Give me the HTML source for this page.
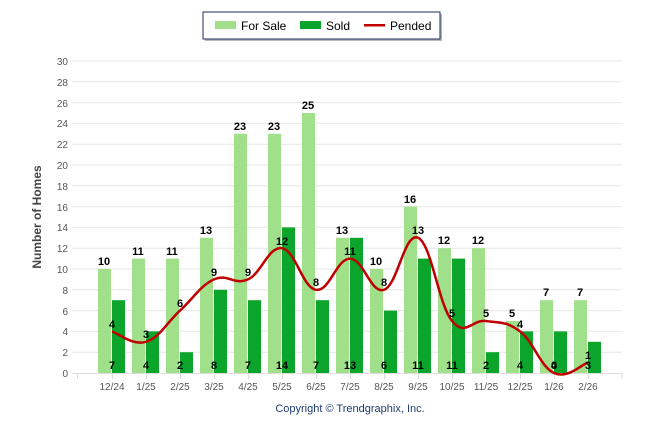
<!DOCTYPE html>
<html><head><meta charset="utf-8"><style>
body{margin:0;background:#fff;}
svg{display:block;font-family:"Liberation Sans",Arial,sans-serif;}
.t{font-size:10px;fill:#555;}
.l{font-size:11px;font-weight:bold;fill:#000;text-anchor:middle;}
</style></head><body>
<svg id="s" width="646" height="434" viewBox="0 0 646 434">
<g id="grid"></g>
<g id="bars"></g>
<path id="line" fill="none" stroke="#c00000" stroke-width="2.5"/>
<g id="lab" class="l"></g>
<rect x="205" y="14" width="237" height="27" fill="#888" opacity="0.6"/>
<rect x="203" y="12" width="237" height="27" fill="#fff" stroke="#1f2d5a" stroke-width="1"/>
<rect x="215" y="21" width="21" height="8" fill="#a0e08a"/>
<text x="241" y="30" style="font-size:12px;fill:#000">For Sale</text>
<rect x="300" y="21" width="21" height="8" fill="#0aa52a"/>
<text x="326" y="30" style="font-size:12px;fill:#000">Sold</text>
<rect x="364" y="24" width="21" height="2.5" fill="#c00000"/>
<text x="390" y="30" style="font-size:12px;fill:#000">Pended</text>
<text transform="translate(41,217) rotate(-90)" text-anchor="middle" style="font-size:12px;font-weight:bold;fill:#444">Number of Homes</text>
<text x="350" y="412" text-anchor="middle" style="font-size:11px;fill:#1f3c6e">Copyright © Trendgraphix, Inc.</text>
<g class="t" text-anchor="end">
<text x="68" y="377">0</text><text x="68" y="356">2</text><text x="68" y="335">4</text><text x="68" y="315">6</text><text x="68" y="294">8</text><text x="68" y="273">10</text><text x="68" y="252">12</text><text x="68" y="231">14</text><text x="68" y="211">16</text><text x="68" y="190">18</text><text x="68" y="169">20</text><text x="68" y="148">22</text><text x="68" y="127">24</text><text x="68" y="107">26</text><text x="68" y="86">28</text><text x="68" y="65">30</text>
</g>
<g class="t" text-anchor="middle">
<text x="112" y="390">12/24</text><text x="146" y="390">1/25</text><text x="180" y="390">2/25</text><text x="214" y="390">3/25</text><text x="248" y="390">4/25</text><text x="282" y="390">5/25</text><text x="316" y="390">6/25</text><text x="350" y="390">7/25</text><text x="384" y="390">8/25</text><text x="418" y="390">9/25</text><text x="452" y="390">10/25</text><text x="486" y="390">11/25</text><text x="520" y="390">12/25</text><text x="554" y="390">1/26</text><text x="588" y="390">2/26</text>
</g>
<g class="l">
<text x="104" y="265">10</text><text x="138" y="255">11</text><text x="172" y="255">11</text><text x="206" y="234">13</text><text x="240" y="130">23</text><text x="274" y="130">23</text><text x="308" y="109">25</text><text x="342" y="234">13</text><text x="376" y="265">10</text><text x="410" y="203">16</text><text x="444" y="244">12</text><text x="478" y="244">12</text><text x="512" y="317">5</text><text x="546" y="296">7</text><text x="580" y="296">7</text>
<text x="112" y="369">7</text><text x="146" y="369">4</text><text x="180" y="369">2</text><text x="214" y="369">8</text><text x="248" y="369">7</text><text x="282" y="369">14</text><text x="316" y="369">7</text><text x="350" y="369">13</text><text x="384" y="369">6</text><text x="418" y="369">11</text><text x="452" y="369">11</text><text x="486" y="369">2</text><text x="520" y="369">4</text><text x="554" y="369">4</text><text x="588" y="369">3</text>
<text x="112" y="328">4</text><text x="146" y="338">3</text><text x="180" y="307">6</text><text x="214" y="276">9</text><text x="248" y="276">9</text><text x="282" y="245">12</text><text x="316" y="286">8</text><text x="350" y="255">11</text><text x="384" y="286">8</text><text x="418" y="234">13</text><text x="452" y="317">5</text><text x="486" y="317">5</text><text x="520" y="328">4</text><text x="554" y="369">0</text><text x="588" y="359">1</text>
</g>
</svg>
<script>
var fs=[10,11,11,13,23,23,25,13,10,16,12,12,5,7,7],so=[7,4,2,8,7,14,7,13,6,11,11,2,4,4,3],pe=[4,3,6,9,9,12,8,11,8,13,5,5,4,0,1];
var NS="http://www.w3.org/2000/svg";function el(p,n,a){var e=document.createElementNS(NS,n);for(var k in a)e.setAttribute(k,a[k]);p.appendChild(e);return e;}
function Y(v){return 373-10.4*v;}
var g=document.getElementById("grid");
for(var i=1;i<=30;i+=1){if(i%2)continue;el(g,"line",{x1:72,x2:622,y1:Y(i),y2:Y(i),stroke:"#e6e6e6","stroke-width":1});}
el(g,"line",{x1:72,x2:622,y1:373.5,y2:373.5,stroke:"#ddd","stroke-width":1});
for(var i=-1;i<=15;i++){var x=112+34*i+0.5;if(i==-1)x=77.5;if(i==15)x=622;el(g,"line",{x1:x,x2:x,y1:373,y2:379,stroke:"#ddd"});}
var b=document.getElementById("bars");
for(var i=0;i<15;i++){var c=112+34*i;
el(b,"rect",{x:c-14,y:Y(fs[i]),width:13,height:10.4*fs[i],fill:"#a0e08a"});
el(b,"rect",{x:c,y:Y(so[i]),width:13,height:10.4*so[i],fill:"#0aa52a"});}
var P=pe.map(function(v,i){return [112+34*i,Y(v)];});
var d="M"+P[0][0]+","+P[0][1];
for(var i=0;i<P.length-1;i++){var p0=P[Math.max(0,i-1)],p1=P[i],p2=P[i+1],p3=P[Math.min(P.length-1,i+2)];var t=0.2;
d+=" C"+(p1[0]+(p2[0]-p0[0])*t)+","+(p1[1]+(p2[1]-p0[1])*t)+" "+(p2[0]-(p3[0]-p1[0])*t)+","+(p2[1]-(p3[1]-p1[1])*t)+" "+p2[0]+","+p2[1];}
document.getElementById("line").setAttribute("d",d);
</script>
</body></html>
